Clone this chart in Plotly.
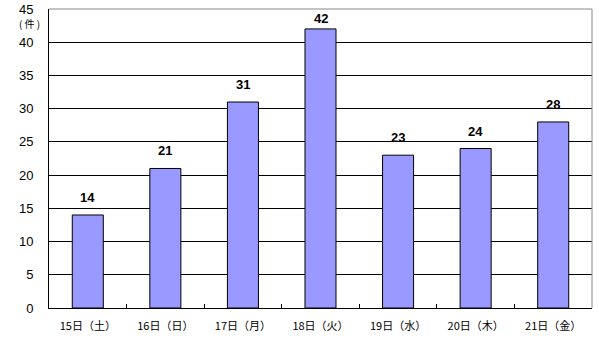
import plotly.graph_objects as go

categories = ["15日（土）", "16日（日）", "17日（月）", "18日（火）", "19日（水）", "20日（木）", "21日（金）"]
values = [14, 21, 31, 42, 23, 24, 28]
y_ticks = [0, 5, 10, 15, 20, 25, 30, 35, 40, 45]

font_family = "Noto Sans CJK JP, DejaVu Sans, sans-serif"

fig = go.Figure()
fig.add_trace(go.Bar(
    x=categories, y=values,
    marker=dict(color="#9999FF", line=dict(color="black", width=1)),
    width=0.4,
))

for c, v in zip(categories, values):
    fig.add_annotation(x=c, y=min(v + 2.63, 43.5), text=f"<b>{v}</b>", showarrow=False,
                       yanchor="middle",
                       font=dict(family="Liberation Sans, Arial, sans-serif", size=13, color="black"))

fig.add_annotation(xref="paper", yref="y", x=0, y=42.75, text="( 件 )", showarrow=False,
                   xanchor="right", xshift=-7,
                   font=dict(family=font_family, size=10, color="black"))

fig.update_layout(
    width=599, height=350,
    margin=dict(l=49, r=7, t=9, b=42, autoexpand=False),
    plot_bgcolor="white", paper_bgcolor="white",
    showlegend=False,
    font=dict(family=font_family, color="black"),
    bargap=0.6,
    shapes=[
        dict(type="line", xref="paper", yref="paper", x0=0, x1=1, y0=1, y1=1,
             line=dict(color="#888888", width=1)),
        dict(type="line", xref="paper", yref="paper", x0=1, x1=1, y0=0, y1=1,
             line=dict(color="#888888", width=1)),
    ],
)
fig.update_yaxes(range=[0, 45], tickvals=y_ticks, showgrid=True, gridcolor="black", gridwidth=1,
                 showline=True, linecolor="black", linewidth=1, zeroline=False,
                 ticks="", ticklabelstandoff=12, automargin=False,
                 tickfont=dict(family="Liberation Sans, Arial, sans-serif", size=13, color="black"))
fig.update_xaxes(showline=True, linecolor="black", linewidth=1, showgrid=False,
                 tickson="boundaries", ticks="inside", ticklen=4, tickcolor="black",
                 ticklabelstandoff=8, automargin=False,
                 tickfont=dict(family=font_family, size=11, color="black"))

fig.write_html("out.html")
